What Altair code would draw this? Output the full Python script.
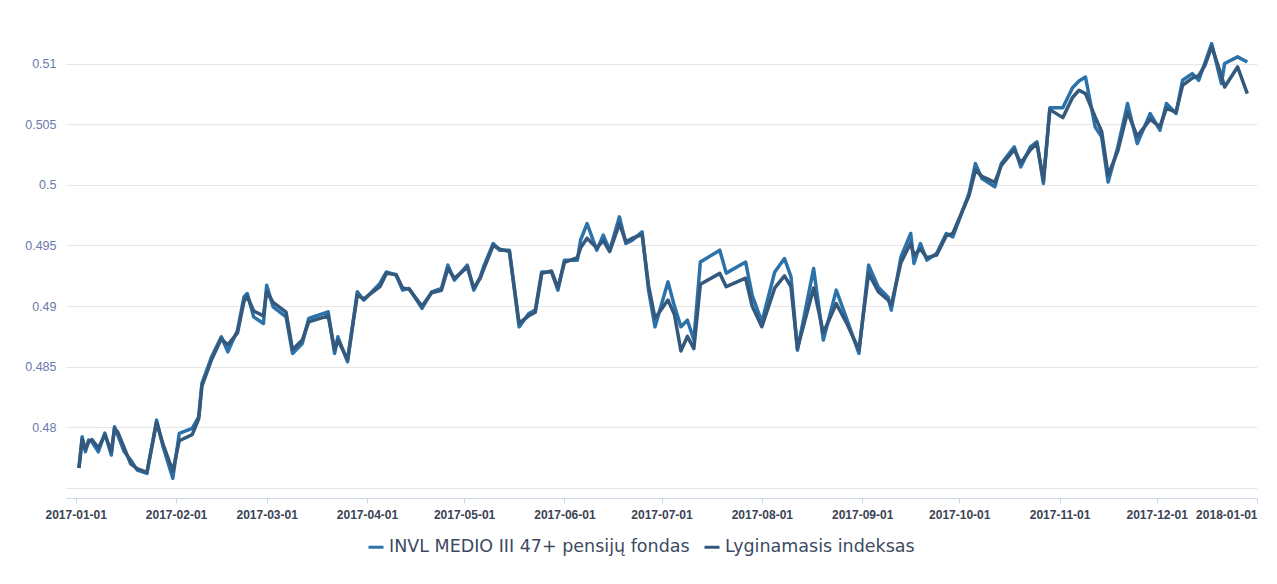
import altair as alt
import pandas as pd

FUND = "INVL MEDIO III 47+ pensijų fondas"
IDX = "Lyginamasis indeksas"

dates = [
    "2017-01-02", "2017-01-03", "2017-01-04", "2017-01-05", "2017-01-06", "2017-01-08",
    "2017-01-10", "2017-01-12", "2017-01-13", "2017-01-14", "2017-01-16", "2017-01-18",
    "2017-01-20", "2017-01-23", "2017-01-26", "2017-01-28", "2017-01-31", "2017-02-02",
    "2017-02-06", "2017-02-08", "2017-02-09", "2017-02-12", "2017-02-15", "2017-02-17",
    "2017-02-20", "2017-02-22", "2017-02-23", "2017-02-25", "2017-02-28", "2017-03-01",
    "2017-03-03", "2017-03-07", "2017-03-09", "2017-03-12", "2017-03-14", "2017-03-20",
    "2017-03-22", "2017-03-23", "2017-03-26", "2017-03-29", "2017-03-31", "2017-04-05",
    "2017-04-07", "2017-04-10", "2017-04-12", "2017-04-14", "2017-04-18", "2017-04-21",
    "2017-04-24", "2017-04-26", "2017-04-28", "2017-05-02", "2017-05-04", "2017-05-06",
    "2017-05-07", "2017-05-10", "2017-05-12", "2017-05-15", "2017-05-18", "2017-05-21",
    "2017-05-23", "2017-05-25", "2017-05-28", "2017-05-30", "2017-06-01", "2017-06-05",
    "2017-06-06", "2017-06-08", "2017-06-11", "2017-06-13", "2017-06-15", "2017-06-18",
    "2017-06-20", "2017-06-22", "2017-06-25", "2017-06-27", "2017-06-29", "2017-07-03",
    "2017-07-05", "2017-07-07", "2017-07-09", "2017-07-11", "2017-07-13", "2017-07-19",
    "2017-07-21", "2017-07-27", "2017-07-29", "2017-08-01", "2017-08-05", "2017-08-08",
    "2017-08-10", "2017-08-12", "2017-08-17", "2017-08-20", "2017-08-24", "2017-08-27",
    "2017-08-31", "2017-09-03", "2017-09-06", "2017-09-09", "2017-09-10", "2017-09-13",
    "2017-09-16", "2017-09-17", "2017-09-19", "2017-09-21", "2017-09-24", "2017-09-27",
    "2017-09-29", "2017-10-04", "2017-10-06", "2017-10-08", "2017-10-12", "2017-10-14",
    "2017-10-18", "2017-10-20", "2017-10-23", "2017-10-25", "2017-10-27", "2017-10-29",
    "2017-11-02", "2017-11-05", "2017-11-07", "2017-11-09", "2017-11-12", "2017-11-14",
    "2017-11-16", "2017-11-19", "2017-11-22", "2017-11-25", "2017-11-29", "2017-12-02",
    "2017-12-04", "2017-12-07", "2017-12-09", "2017-12-12", "2017-12-14", "2017-12-16",
    "2017-12-18", "2017-12-21", "2017-12-22", "2017-12-26", "2017-12-29",
]

fund = [
    0.47665, 0.47923, 0.47799, 0.47896, 0.47882, 0.47799,
    0.47953, 0.47772, 0.48005, 0.47937, 0.47799, 0.47731,
    0.47648, 0.47621, 0.48060, 0.47840, 0.47580, 0.47951,
    0.47992, 0.48088, 0.48363, 0.48582, 0.48747, 0.48623,
    0.48802, 0.49076, 0.49104, 0.48911, 0.48857, 0.49173,
    0.48994, 0.48911, 0.48610, 0.48692, 0.48898, 0.48953,
    0.48610, 0.48747, 0.48541, 0.49118, 0.49049, 0.49187,
    0.49282, 0.49255, 0.49132, 0.49146, 0.48981, 0.49118,
    0.49146, 0.49338, 0.49214, 0.49338, 0.49132, 0.49241,
    0.49323, 0.49516, 0.49461, 0.49461, 0.48829, 0.48939,
    0.48967, 0.49282, 0.49282, 0.49132, 0.49379, 0.49379,
    0.49544, 0.49681, 0.49461, 0.49585, 0.49461, 0.49736,
    0.49516, 0.49544, 0.49612, 0.49132, 0.48829, 0.49200,
    0.49000, 0.48830, 0.48884, 0.48720, 0.49363, 0.49461,
    0.49272, 0.49363, 0.49090, 0.48870, 0.49282, 0.49392,
    0.49244, 0.48637, 0.49310, 0.48720, 0.49132, 0.48911,
    0.48611, 0.49338, 0.49156, 0.49074, 0.48967, 0.49406,
    0.49599, 0.49352, 0.49516, 0.49379, 0.49434, 0.49599,
    0.49571, 0.49928, 0.50175, 0.50052, 0.49983, 0.50175,
    0.50313, 0.50148, 0.50313, 0.50354, 0.50011, 0.50636,
    0.50636, 0.50801, 0.50856, 0.50889, 0.50477, 0.50395,
    0.50024, 0.50312, 0.50670, 0.50340, 0.50588, 0.50450,
    0.50670, 0.50588, 0.50862, 0.50917, 0.50862, 0.51013,
    0.51164, 0.50835, 0.51000, 0.51055, 0.51013,
]

index = [
    0.47665, 0.47900, 0.47820, 0.47880, 0.47900, 0.47830,
    0.47940, 0.47800, 0.47990, 0.47960, 0.47830, 0.47700,
    0.47660, 0.47630, 0.48040, 0.47860, 0.47640, 0.47890,
    0.47940, 0.48070, 0.48340, 0.48560, 0.48730, 0.48680,
    0.48780, 0.49040, 0.49080, 0.48960, 0.48920, 0.49120,
    0.49030, 0.48950, 0.48640, 0.48720, 0.48870, 0.48920,
    0.48640, 0.48720, 0.48560, 0.49090, 0.49060, 0.49160,
    0.49270, 0.49260, 0.49150, 0.49140, 0.49000, 0.49110,
    0.49130, 0.49310, 0.49230, 0.49320, 0.49150, 0.49230,
    0.49300, 0.49500, 0.49470, 0.49450, 0.48860, 0.48920,
    0.48950, 0.49270, 0.49290, 0.49150, 0.49360, 0.49400,
    0.49480, 0.49560, 0.49480, 0.49540, 0.49450, 0.49680,
    0.49530, 0.49560, 0.49590, 0.49170, 0.48900, 0.49050,
    0.48930, 0.48630, 0.48750, 0.48650, 0.49180, 0.49270,
    0.49160, 0.49230, 0.49000, 0.48830, 0.49150, 0.49250,
    0.49160, 0.48650, 0.49150, 0.48780, 0.49020, 0.48870,
    0.48640, 0.49270, 0.49120, 0.49050, 0.49010, 0.49360,
    0.49520, 0.49420, 0.49470, 0.49400, 0.49420, 0.49580,
    0.49600, 0.49910, 0.50120, 0.50070, 0.50020, 0.50160,
    0.50290, 0.50180, 0.50290, 0.50340, 0.50040, 0.50620,
    0.50554, 0.50720, 0.50780, 0.50752, 0.50560, 0.50440,
    0.50080, 0.50280, 0.50600, 0.50400, 0.50540, 0.50480,
    0.50630, 0.50600, 0.50820, 0.50880, 0.50900, 0.50990,
    0.51140, 0.50900, 0.50807, 0.50972, 0.50752,
]

month_ticks = [
    "2017-01-01", "2017-02-01", "2017-03-01", "2017-04-01", "2017-05-01", "2017-06-01",
    "2017-07-01", "2017-08-01", "2017-09-01", "2017-10-01", "2017-11-01", "2017-12-01",
    "2018-01-01",
]
y_ticks = [0.475, 0.48, 0.485, 0.49, 0.495, 0.5, 0.505, 0.51]


def ms(s):
    return int(pd.Timestamp(s, tz="UTC").timestamp() * 1000)


df = pd.DataFrame({
    "date": [ms(d) for d in dates] * 2,
    "value": fund + index,
    "series": [FUND] * len(dates) + [IDX] * len(dates),
})

color = alt.Color(
    "series:N",
    scale=alt.Scale(domain=[FUND, IDX], range=["#2c72aa", "#34597c"]),
    legend=alt.Legend(
        title=None,
        orient="none",
        direction="horizontal",
        legendX=301,
        legendY=506,
        symbolType="stroke",
        symbolSize=225,
        symbolStrokeWidth=3,
        labelFont="DejaVu Sans",
        labelFontSize=17.5,
        labelColor="#3d4a62",
        labelOffset=4,
        columnPadding=8,
        labelLimit=500,
    ),
)

last_tick = ms("2018-01-01")

x = alt.X(
    "date:T",
    scale=alt.Scale(type="utc", domain=[ms("2016-12-29"), last_tick]),
    axis=alt.Axis(
        values=[ms(t) for t in month_ticks],
        labelExpr="utcFormat(datum.value, '%Y-%m-%d')",
        labelAlign={"condition": {"test": f"datum.value >= {last_tick}", "value": "right"}, "value": "center"},
        title=None,
        grid=False,
        domainColor="#ccd6eb",
        tickColor="#ccd6eb",
        tickSize=5,
        labelFont="Liberation Sans",
        labelFontSize=12,
        labelFontWeight="bold",
        labelColor="#3b4354",
        labelPadding=6,
        labelFlush=False,
        labelOverlap=False,
    ),
)

y = alt.Y(
    "value:Q",
    scale=alt.Scale(domain=[0.47418, 0.5126], nice=False, zero=False),
    axis=alt.Axis(
        values=y_ticks,
        labelExpr="datum.value < 0.477 ? '' : format(datum.value, '~g')",
        title=None,
        domain=False,
        ticks=False,
        gridColor="#e6e6e6",
        gridWidth=1,
        labelFont="Liberation Sans",
        labelFontSize=12.5,
        labelColor="#6a7aab",
        labelPadding=10,
    ),
)

base = alt.Chart(df)
fund_line = base.transform_filter(alt.datum.series == FUND).mark_line(
    strokeWidth=3.5, strokeJoin="round"
).encode(x=x, y=y, color=color)
idx_line = base.transform_filter(alt.datum.series == IDX).mark_line(
    strokeWidth=3.5, strokeJoin="round"
).encode(x=x, y=y, color=color)

chart = (
    alt.layer(fund_line, idx_line)
    .properties(
        width=1191,
        height=466,
        autosize=alt.AutoSizeParams(type="none"),
        padding={"left": 58, "top": 24, "right": 10, "bottom": 60},
        background="#ffffff",
    )
    .configure_view(stroke=None)
)

chart.save("out.html", embed_options={"renderer": "svg", "actions": False})
